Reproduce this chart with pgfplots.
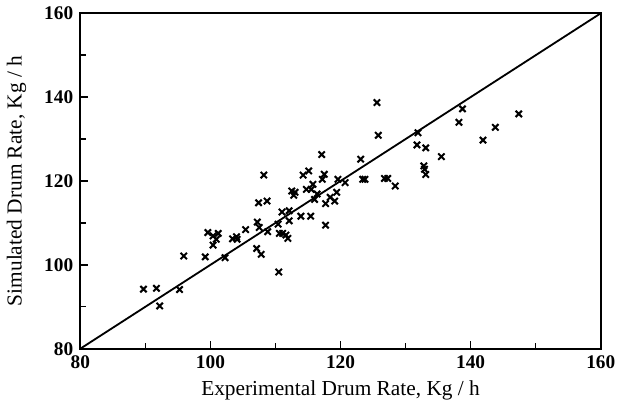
\documentclass[border=0pt]{standalone}
\usepackage{fontspec}
\setmainfont{Liberation Serif}
\usepackage{pgfplots}
\pgfplotsset{compat=1.18}
\begin{document}
\begin{tikzpicture}
\begin{axis}[
  scale only axis,
  width=256pt, height=165pt,
  xmin=80, xmax=160, ymin=80, ymax=160,
  xtick={80,100,120,140,160}, ytick={80,100,120,140,160},
  minor xtick={90,110,130,150}, minor ytick={90,110,130,150},
  xtick pos=left, ytick pos=left,
  tick align=inside,
  major tick length=4pt, minor tick length=3pt,
  axis line style={line width=0.9pt},
  every tick/.style={line width=0.7pt, black},
  /pgf/number format/assume math mode=true,
  ticklabel style={font=\fontsize{9.5}{10}\selectfont\bfseries},
  xlabel={Experimental Drum Rate, Kg / h},
  ylabel={Simulated Drum Rate, Kg / h},
  label style={font=\fontsize{10.5}{12}\selectfont},
  xlabel style={yshift=1pt},
  ylabel style={yshift=2pt},
]
\addplot[black, line width=0.9pt, no marks] coordinates {(80,80) (160,160)};
\addplot[only marks, mark=x, mark size=2.2pt, mark options={line width=1pt, black}] coordinates {
(89.7,94.2) (91.7,94.4) (92.2,90.2) (95.25,94.1) (95.9,102.1)
(99.2,101.9) (99.6,107.7) (100.4,106.9) (100.4,104.7) (100.9,106.1)
(101.2,107.5) (102.25,101.7) (103.4,106.2) (104.0,106.7) (104.1,106.1)
(105.4,108.4) (107.1,103.9) (107.8,102.5) (107.2,110.2) (107.5,108.9)
(107.4,114.8) (108.7,115.2) (108.2,121.4) (108.8,107.9) (110.5,98.3)
(110.4,109.7) (110.6,107.5) (111.0,112.6) (111.1,107.5) (111.6,107.1)
(111.9,106.3) (112.1,110.5) (112.1,112.9) (112.5,117.6) (112.8,116.6)
(113.0,117.3) (113.9,111.6) (114.25,121.4) (114.75,118.0) (115.1,122.4)
(115.4,111.6) (115.5,118.0) (115.75,119.2) (116.0,115.6) (116.4,116.9)
(117.1,126.3) (117.2,120.4) (117.5,121.6) (117.7,114.6) (117.7,109.45)
(118.4,116.1) (119.1,115.2) (119.4,117.3) (119.6,120.4) (120.7,119.6)
(123.1,125.2) (123.4,120.4) (123.75,120.4) (125.6,138.7) (125.8,130.9)
(126.75,120.6) (127.25,120.6) (128.4,118.8) (131.9,131.5) (131.75,128.6)
(133.1,127.9) (132.8,123.6) (132.9,122.8) (133.1,121.55) (135.5,125.8)
(138.2,134.0) (138.75,137.2) (141.9,129.75) (143.8,132.8) (147.4,136.0)
};
\end{axis}
\end{tikzpicture}
\end{document}
